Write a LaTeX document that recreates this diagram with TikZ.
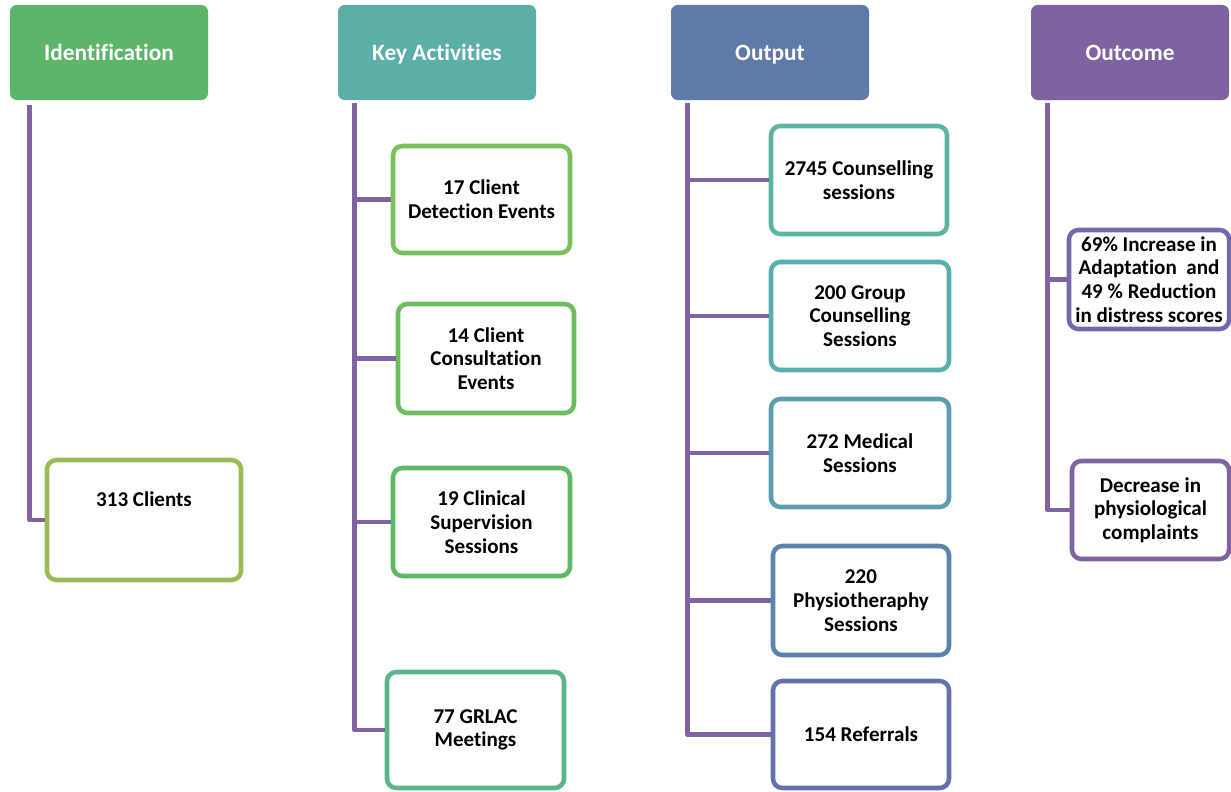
\documentclass[tikz,border=0pt]{standalone}
\usepackage{fontspec}
\setmainfont{Carlito}[Ligatures=NoCommon]
\definecolor{cId}{HTML}{5CB569}
\definecolor{cKa}{HTML}{5BAFA6}
\definecolor{cOut}{HTML}{5F7AA8}
\definecolor{cOc}{HTML}{7F63A1}
\definecolor{lnc}{HTML}{8064A2}
\definecolor{bC}{HTML}{9BBB59}
\definecolor{bKa}{HTML}{7BC05A}
\definecolor{bKb}{HTML}{6DBC5E}
\definecolor{bKc}{HTML}{5FB867}
\definecolor{bKd}{HTML}{5BB685}
\definecolor{bOa}{HTML}{5BB5A0}
\definecolor{bOb}{HTML}{5BAEB0}
\definecolor{bOc}{HTML}{5B9DB0}
\definecolor{bOd}{HTML}{5B83AE}
\definecolor{bOe}{HTML}{6271B0}
\definecolor{bRa}{HTML}{7666AC}
\definecolor{bRb}{HTML}{8064A2}
\begin{document}
\begin{tikzpicture}[x=0.75pt,y=-0.75pt,
 hdr/.style={rectangle, rounded corners=5pt, minimum width=148.5pt, minimum height=71.25pt, text=white, text height=11.3pt, text depth=0pt, font=\bfseries\fontsize{17.5}{21}\selectfont},
 bx/.style={rectangle, rounded corners=7pt, line width=3.4pt, fill=white, align=center, inner sep=0pt, font=\bfseries\fontsize{15.8}{17.8}\selectfont},
 txt/.style={align=center, inner sep=0pt, font=\bfseries\fontsize{15.8}{17.8}\selectfont},
 sz/.style 2 args={minimum width={#1*0.75pt}, minimum height={#2*0.75pt}},
 conn/.style={draw=lnc, line width=3.6pt, line join=round}]
\useasboundingbox (0,0) rectangle (1231,792);
% headers
\node[hdr, fill=cId] (id) at (109,52.5) {Identification};
\node[hdr, fill=cKa] (ka) at (437,52.5) {Key Activities};
\node[hdr, fill=cOut] (out) at (770,52.5) {Output};
\node[hdr, fill=cOc] (oc) at (1130,52.5) {Outcome};
% boxes
\node[bx, draw=bC, sz={194}{120}] (c1) at (144,520) {};
\node[txt] (c1t) at ([yshift=15.75pt]c1.center) {313 Clients};

\node[bx, draw=bKa, sz={177}{107}] (k1) at (481.5,199.5) {17 Client\\Detection Events};
\node[bx, draw=bKb, sz={176}{109}] (k2) at (486,358.5) {14 Client\\Consultation\\Events};
\node[bx, draw=bKc, sz={177}{108}] (k3) at (481.5,522) {19 Clinical\\Supervision\\Sessions};
\node[bx, draw=bKd, sz={177}{116}] (k4) at (475.5,730) {77 GRLAC\\Meetings};

\node[bx, draw=bOa, sz={176}{108}] (o1) at (859,180) {2745 Counselling\\sessions};
\node[bx, draw=bOb, sz={178}{108}] (o2) at (860,316) {200 Group\\Counselling\\Sessions};
\node[bx, draw=bOc, sz={178}{108}] (o3) at (860,453) {272 Medical\\Sessions};
\node[bx, draw=bOd, sz={176}{109}] (o4) at (861,600.5) {220\\Physiotheraphy\\Sessions};
\node[bx, draw=bOe, sz={176}{107}] (o5) at (861,734.5) {154 Referrals};

\node[bx, draw=bRa, sz={160}{99}] (r1) at (1149,279.5) {69\% Increase in\\Adaptation\ \ and\\49 \% Reduction\\in distress scores};
\node[bx, draw=bRb, sz={157}{98}] (r2) at (1150.5,510) {Decrease in\\physiological\\complaints};
% trunks
\coordinate (ta) at ([xshift=15pt,yshift=-3.75pt]id.south west);
\coordinate (tb) at ([xshift=12.75pt,yshift=-2.25pt]ka.south west);
\coordinate (tc) at ([xshift=12.75pt,yshift=-2.25pt]out.south west);
\coordinate (td) at ([xshift=12.75pt,yshift=-2.25pt]oc.south west);
\draw[conn] (ta) |- (c1.west);
\foreach \b in {k1,k2,k3,k4} \draw[conn] (tb) |- (\b.west);
\foreach \b in {o1,o2,o3,o4,o5} \draw[conn] (tc) |- (\b.west);
\foreach \b in {r1,r2} \draw[conn] (td) |- (\b.west);
\end{tikzpicture}
\end{document}
